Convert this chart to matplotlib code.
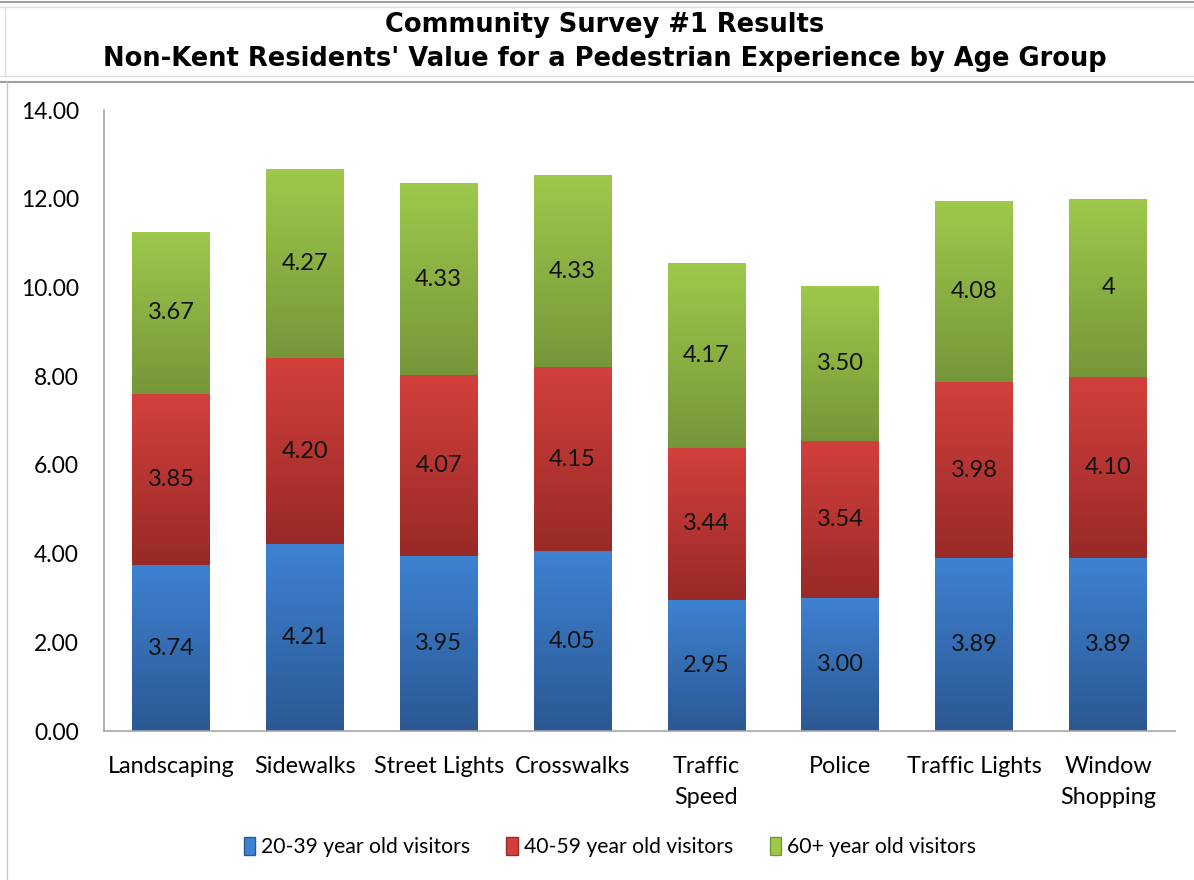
import numpy as np
import matplotlib.pyplot as plt
from matplotlib.colors import LinearSegmentedColormap
from matplotlib.patches import Patch
from matplotlib.lines import Line2D

categories = ["Landscaping", "Sidewalks", "Street Lights", "Crosswalks",
              "Traffic\nSpeed", "Police", "Traffic Lights", "Window\nShopping"]
age_20_39 = [3.74, 4.21, 3.95, 4.05, 2.95, 3.00, 3.89, 3.89]
age_40_59 = [3.85, 4.20, 4.07, 4.15, 3.44, 3.54, 3.98, 4.10]
age_60_up = [3.67, 4.27, 4.33, 4.33, 4.17, 3.50, 4.08, 4.00]
labels_60_up = ["3.67", "4.27", "4.33", "4.33", "4.17", "3.50", "4.08", "4"]
series_names = ["20-39 year old visitors", "40-59 year old visitors",
                "60+ year old visitors"]

# (bottom colour, top colour) for the vertical gradient of each series
grads = [("#2b5893", "#3e82d2"), ("#982a27", "#d3403c"), ("#76963a", "#9ec94b")]

plt.rcParams['font.family'] = ['Lato', 'DejaVu Sans']

fig = plt.figure(figsize=(11.94, 8.8), dpi=100)
ax = fig.add_axes([104 / 1194, 1 - 731 / 880, 1071 / 1194, 621 / 880])

x = np.arange(len(categories))
width = 0.58
bottoms = np.zeros(len(categories))
all_values = [age_20_39, age_40_59, age_60_up]
all_labels = [[f"{v:.2f}" for v in age_20_39],
              [f"{v:.2f}" for v in age_40_59],
              labels_60_up]

grad_img = np.linspace(1, 0, 256).reshape(-1, 1)
for vals, labs, (c0, c1) in zip(all_values, all_labels, grads):
    cmap = LinearSegmentedColormap.from_list("g", [c0, c1])
    bars = ax.bar(x, vals, width, bottom=bottoms, color="none",
                  edgecolor="none", zorder=2)
    for bar, lab in zip(bars, labs):
        bx, by = bar.get_x(), bar.get_y()
        bw, bh = bar.get_width(), bar.get_height()
        im = ax.imshow(grad_img, cmap=cmap, aspect="auto",
                       extent=[bx, bx + bw, by, by + bh], zorder=2,
                       interpolation="bicubic")
        im.set_clip_path(bar)
        ax.text(bx + bw / 2, by + bh / 2, lab, ha="center", va="center",
                fontsize=17, color="#111111", zorder=3)
    bottoms += np.array(vals)

ax.set_xlim(-0.5, len(categories) - 0.5)
ax.set_ylim(0, 14)
ax.set_yticks(np.arange(0, 15, 2))
ax.set_yticklabels([f"{v:.2f}" for v in np.arange(0, 15, 2)], fontsize=16.5)
ax.set_xticks(x)
ax.set_xticklabels(categories, fontsize=16.8, linespacing=1.6, va="top")
ax.tick_params(axis="x", length=0, pad=18)
ax.tick_params(axis="y", length=0, pad=18)
for side in ["top", "right"]:
    ax.spines[side].set_visible(False)
for side in ["left", "bottom"]:
    ax.spines[side].set_color("#a6a6a6")
    ax.spines[side].set_linewidth(1.2)

fig.text(605 / 1194, 1 - 25 / 880, "Community Survey #1 Results",
         ha="center", va="center", fontsize=18.5, fontweight="bold",
         family="DejaVu Sans")
fig.text(605 / 1194, 1 - 59 / 880,
         "Non-Kent Residents' Value for a Pedestrian Experience by Age Group",
         ha="center", va="center", fontsize=18.5, fontweight="bold",
         family="DejaVu Sans")

# spreadsheet-style frame lines around the chart
def hline(y, color, lw):
    fig.add_artist(Line2D([0, 1], [1 - y / 880, 1 - y / 880],
                          transform=fig.transFigure, color=color, lw=lw))

hline(2, "#a0a0a0", 1.5)
hline(7, "#dcdcdc", 1.0)
hline(76, "#dcdcdc", 1.0)
hline(82, "#a0a0a0", 1.5)
fig.add_artist(Line2D([7 / 1194, 7 / 1194], [0, 1 - 82 / 880],
                      transform=fig.transFigure, color="#c8c8c8", lw=1.0))
fig.add_artist(Line2D([5 / 1194, 5 / 1194], [1 - 76 / 880, 1 - 7 / 880],
                      transform=fig.transFigure, color="#dcdcdc", lw=1.0))

handles = [Patch(facecolor=c1, edgecolor=c0) for c0, c1 in grads]
fig.legend(handles, series_names, loc="center", ncol=3, frameon=False,
           bbox_to_anchor=(610 / 1194, 1 - 847 / 880), fontsize=15.2,
           handlelength=0.55, handleheight=0.9, handletextpad=0.3,
           columnspacing=1.7)

fig.savefig("out.png", dpi=100)
